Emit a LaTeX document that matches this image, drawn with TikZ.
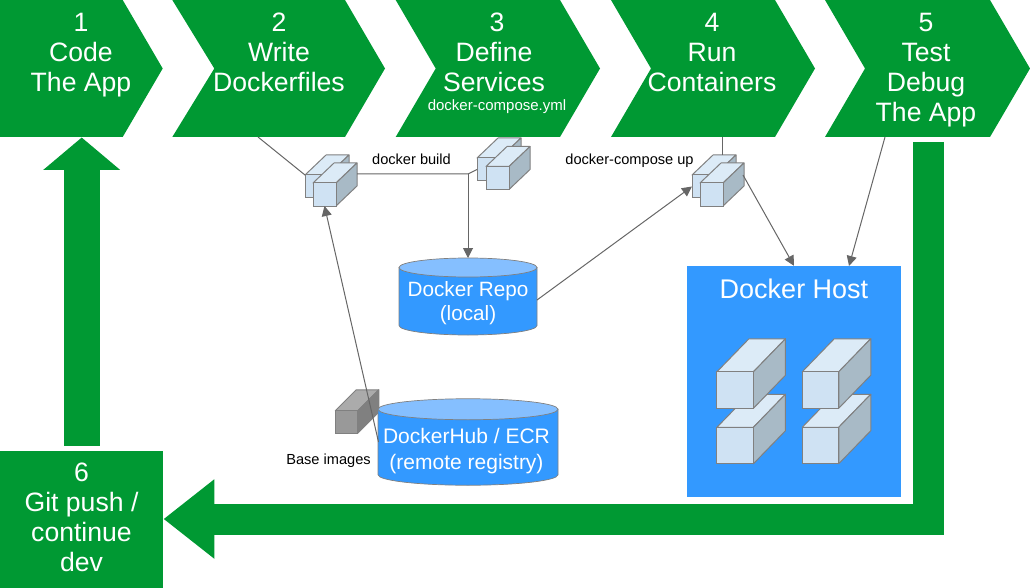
\documentclass[tikz,border=0pt]{standalone}
\usepackage{fontspec}
\setmainfont{Liberation Sans}
\usepackage{xcolor}
\usetikzlibrary{arrows.meta}
\definecolor{flowgreen}{HTML}{009933}
\definecolor{hostblue}{HTML}{3399FF}
\definecolor{liftblue}{HTML}{85BFFF}
\definecolor{cratefront}{HTML}{CFE2F3}
\definecolor{cratetop}{HTML}{DCEBF7}
\definecolor{crateside}{HTML}{A8BAC6}
\definecolor{crateline}{HTML}{808080}
\definecolor{basefront}{HTML}{999999}
\definecolor{basetop}{HTML}{ABABAB}
\definecolor{baseside}{HTML}{808080}
\definecolor{wire}{HTML}{666666}

\begin{document}
\begin{tikzpicture}[x=1pt,y=-1pt,
  stagefill/.style={fill=flowgreen},
  stage/.style={text=white, font=\fontsize{26.6}{30}\selectfont, align=center, anchor=north,
                inner sep=0pt, outer sep=0pt},
  store/.style 2 args={minimum width=2*#1pt, minimum height=#2pt, inner sep=0pt, outer sep=0pt},
  storedrum/.style args={#1/#2/#3}{store={#1}{#2},
                append after command={\pgfextra{\let\storenode\tikzlastnode
                  \draw[crateline, line width=0.7pt, fill=hostblue]
                    ([yshift=-#3pt]\storenode.north west) -- ([yshift=#3pt]\storenode.south west)
                    arc[start angle=180, end angle=360, x radius=#1pt, y radius=#3pt]
                    -- ([yshift=-#3pt]\storenode.north east) -- cycle;
                  \draw[crateline, line width=0.7pt, fill=liftblue]
                    ([yshift=-#3pt]\storenode.north) ellipse[x radius=#1pt, y radius=#3pt];
                }}},
  storetext/.style={text=white, align=center, inner sep=0pt},
  caption/.style={font=\fontsize{14.6}{17}\selectfont, text=black, inner sep=0pt, anchor=base},
  link/.style={draw=wire, line width=1pt},
  linkhead/.style={link, -{Triangle[length=10pt,width=10pt]}},
  flowarrow/.style={draw=flowgreen, line width=#1pt},
  crate/.style args={#1/#2/#3/#4/#5/#6}{draw=crateline, line width=1pt, fill=#4, minimum size=#1pt,
                inner sep=0pt, outer sep=0pt,
                append after command={\pgfextra{\let\cratenode\tikzlastnode
                  \draw[crateline, line width=1pt, line join=round, fill=#5]
                    (\cratenode.north west) -- ++(#2pt,#3pt) -- ++(#1pt,0pt) -- (\cratenode.north east) -- cycle;
                  \draw[crateline, line width=1pt, line join=round, fill=#6]
                    (\cratenode.north east) -- ++(#2pt,#3pt) -- ++(0pt,-#1pt) -- (\cratenode.south east) -- cycle;
                }}},
  smallcrate/.style={crate=23/21/20/cratefront/cratetop/crateside},
  bigcrate/.style={crate=36.5/32/33/cratefront/cratetop/crateside},
  basecrate/.style={crate=22.5/21/21/basefront/basetop/baseside}]
\useasboundingbox (0,0) rectangle (1030,588);
% stages across the top
\fill[stagefill] (0,0) -- (122.7,0) -- (162.7,68.5) -- (122.7,137) -- (0,137) -- cycle;
\fill[stagefill] (172.3,0) -- (345,0) -- (385,68.5) -- (345,137) -- (172.3,137) -- (214.3,68.5) -- cycle;
\fill[stagefill] (395.7,0) -- (560,0) -- (600,68.5) -- (560,137) -- (395.7,137) -- (435.7,68.5) -- cycle;
\fill[stagefill] (611,0) -- (775,0) -- (815,68.5) -- (775,137) -- (611,137) -- (651,68.5) -- cycle;
\fill[stagefill] (825,0) -- (990,0) -- (1030,68.5) -- (990,137) -- (825,137) -- (865,68.5) -- cycle;
\node[stage] (code) at (81,13) {1\\Code\\The App};
\node[stage] (write) at (279,13) {2\\Write\\Dockerfiles};
\node[stage] (define) at (497,13) {3\\Define\kern6pt\relax\\Services\kern6pt\relax\\[-11pt]{\fontsize{15}{15}\selectfont docker-compose.yml}};
\node[stage] (run) at (712,13) {4\\Run\\Containers};
\node[stage] (debug) at (926,13) {5\\Test\\Debug\\The App};
\node[fill=flowgreen, minimum width=163pt, minimum height=137pt, inner sep=0pt] (pushbox) at (81.5,519.5) {};
\node[stage] (push) at (81.5,463) {6\\Git push /\\continue\\dev};
% free ends
\coordinate (codefoot) at (81.7,137.5);
\coordinate (pushtail) at (81.7,445.7);
\coordinate (debugtail) at (928,142);
\coordinate (pushside) at (163.5,519);
\coordinate (writefoot) at (258,137);
\coordinate (runfoot) at (722,137);
\coordinate (debugfoot) at (885,137);
\coordinate (buildjoin) at (468,174);
% block arrows
\draw[flowarrow=35.7, -{Triangle[length=32.5pt,width=75.3pt]}] (pushtail) -- (codefoot);
\draw[flowarrow=31, -{Triangle[length=50.8pt,width=76pt]}] (debugtail) |- (pushside);
% host and stores
\node[fill=hostblue, minimum width=214pt, minimum height=231pt, inner sep=0pt] (host) at (794,381.5) {};
\node[text=white, font=\fontsize{27}{30}\selectfont, inner sep=0pt, anchor=base] (hosttitle) at (794,298) {Docker Host};
\node[storedrum=69/77/9.5] (repo) at (468,296.5) {};
\node[storetext, font=\fontsize{20.7}{24}\selectfont] (repolabel) at (468,303) {Docker Repo\\(local)};
\node[basecrate] (base) at (346.5,422) {};
\node[storedrum=90/86.5/10.5] (hub) at (468,442) {};
\node[storetext, font=\fontsize{21}{25.5}\selectfont] (hublabel) at (466.5,451) {DockerHub / ECR\\(remote registry)};
% containers
\node[smallcrate] (buildback) at (316.5,186.5) {};
\node[smallcrate] (buildfront) at (324.5,194.5) {};
\node[smallcrate] (composeback) at (488.5,169.5) {};
\node[smallcrate] (composefront) at (497.5,178) {};
\node[smallcrate] (runback) at (703.5,186.5) {};
\node[smallcrate] (runfront) at (711.5,194.5) {};
\node[bigcrate] (hostlowa) at (735.2,445.5) {};
\node[bigcrate] (hostlowb) at (820.5,445.5) {};
\node[bigcrate] (hostupa) at (735.2,390) {};
\node[bigcrate] (hostupb) at (820.5,390) {};
% labels
\node[caption] (buildlabel) at (411.5,165) {docker build};
\node[caption] (uplabel) at (629.5,164.5) {docker-compose up};
\node[caption] (baselabel) at (328.5,464) {Base images};
% thin links
\coordinate (buildside) at (357,174);
\coordinate (runtop) at (722,155);
\coordinate (hubleft) at (378.5,442);
\coordinate (repoleft) at (537,300);
\coordinate (runside) at (743,175);
\coordinate (hosttop) at (849,266);
\draw[link] (writefoot) -- (buildback.north west);
\draw[link] (buildside) -- (buildjoin) -- (composeback.west);
\draw[linkhead] (buildjoin) -- (repo.north);
\draw[linkhead] (hubleft) -- (buildfront.south);
\draw[linkhead] (repoleft) -- (runback.west);
\draw[link] (runfoot) -- (runtop);
\draw[linkhead] (runside) -- (host.north);
\draw[linkhead] (debugfoot) -- (hosttop);
\end{tikzpicture}
\end{document}
